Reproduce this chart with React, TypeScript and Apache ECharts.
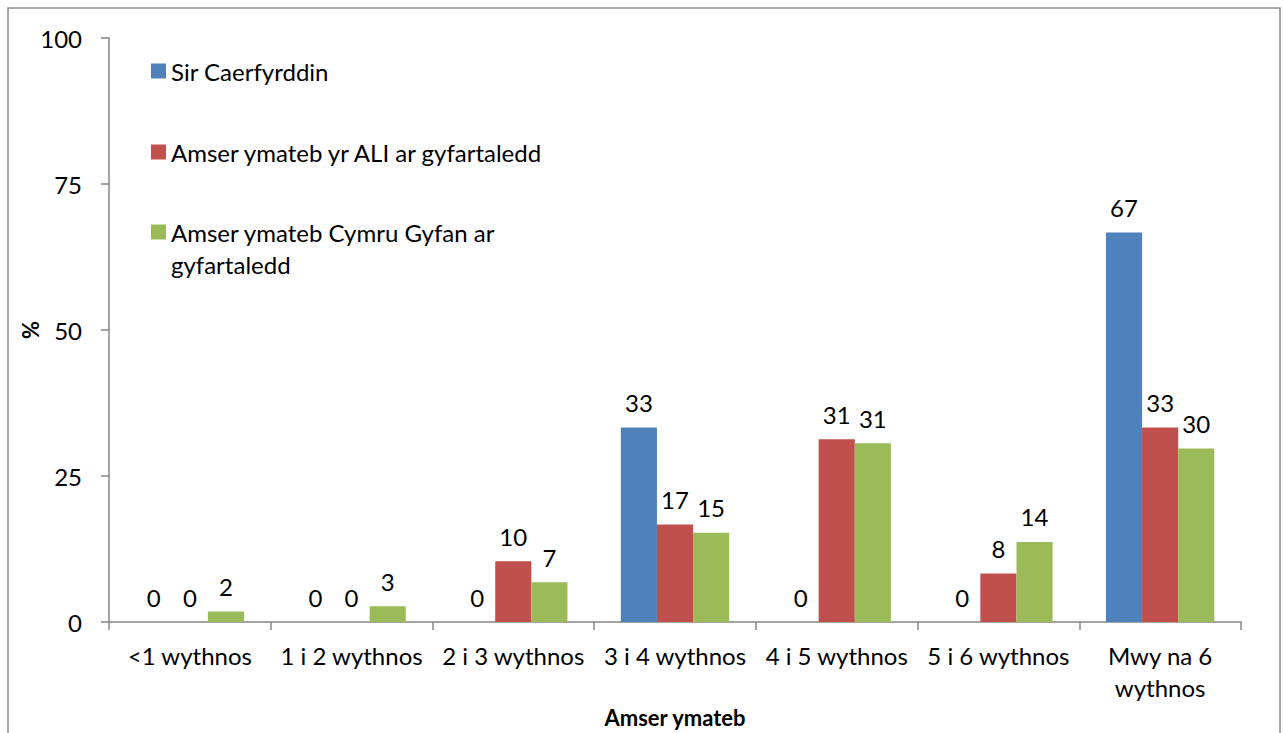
import React, { useEffect, useRef } from "react";
import * as echarts from "echarts";

const categories = [
  "<1 wythnos",
  "1 i 2 wythnos",
  "2 i 3 wythnos",
  "3 i 4 wythnos",
  "4 i 5 wythnos",
  "5 i 6 wythnos",
  "Mwy na 6\nwythnos",
];
const seriesNames = [
  "Sir Caerfyrddin",
  "Amser ymateb yr ALI ar gyfartaledd",
  "Amser ymateb Cymru Gyfan ar gyfartaledd",
];
const sirCaerfyrddin = [0, 0, 0, 33.3, 0, 0, 66.7];
const aliAverage = [0, 0, 10.4, 16.7, 31.3, 8.3, 33.3];
const cymruAverage = [1.8, 2.7, 6.8, 15.3, 30.6, 13.7, 29.7];
const yTicks = [0, 25, 50, 75, 100];

const colors = ["#4F81BD", "#C0504D", "#9BBB59"];
const FONT = "Lato";
const FS = 24;

export default function App() {
  const ref = useRef<HTMLDivElement>(null);
  useEffect(() => {
    if (!ref.current) return;
    const chart = echarts.init(ref.current, undefined, { renderer: "svg" });
    const values = [sirCaerfyrddin, aliAverage, cymruAverage];
    const legendBase = {
      orient: "vertical",
      left: 151,
      padding: 0,
      itemWidth: 15,
      itemHeight: 15,
      selectedMode: false,
      icon: "rect",
      textStyle: { fontFamily: FONT, fontSize: FS, color: "#000" },
    };
    chart.setOption({
      animation: false,
      textStyle: { fontFamily: FONT },
      color: colors,
      grid: { left: 109, right: 43, top: 38, bottom: 111, containLabel: false },
      graphic: [
        {
          type: "rect",
          shape: { x: 8, y: 8, width: 1272, height: 760 },
          style: { fill: "none", stroke: "#8a8a8a", lineWidth: 1.5 },
          silent: true,
        },
      ],
      legend: [
        { ...legendBase, top: 59, data: [seriesNames[0]] },
        { ...legendBase, top: 140, data: [seriesNames[1]] },
        {
          ...legendBase,
          top: 184,
          data: [seriesNames[2]],
          formatter: () => "\nAmser ymateb Cymru Gyfan ar\ngyfartaledd",
          textStyle: {
            fontFamily: FONT,
            fontSize: FS,
            color: "#000",
            lineHeight: 32,
          },
        },
      ],
      xAxis: {
        type: "category",
        data: categories,
        name: "Amser ymateb",
        nameLocation: "middle",
        nameGap: 84,
        nameMoveOverlap: false,
        nameTextStyle: { fontFamily: FONT, fontSize: FS - 2, fontWeight: "bold", color: "#000" },
        axisLine: { lineStyle: { color: "#868686", width: 1.5 } },
        axisTick: { show: true, length: 8, lineStyle: { color: "#868686", width: 1.5 } },
        axisLabel: {
          fontFamily: FONT,
          fontSize: FS,
          color: "#000",
          margin: 17,
          lineHeight: 32,
          interval: 0,
        },
      },
      yAxis: {
        type: "value",
        min: 0,
        max: 100,
        interval: 25,
        name: "%",
        nameLocation: "middle",
        nameGap: 68,
        nameMoveOverlap: false,
        nameTextStyle: { fontFamily: FONT, fontSize: FS - 2, fontWeight: "bold", color: "#000" },
        splitLine: { show: false },
        axisLine: { show: true, lineStyle: { color: "#868686", width: 1.5 } },
        axisTick: { show: true, length: 8, lineStyle: { color: "#868686", width: 1.5 } },
        axisLabel: {
          fontFamily: FONT,
          fontSize: FS,
          color: "#000",
          margin: 27,
          formatter: (v: number) => (yTicks.includes(v) ? String(v) : ""),
        },
      },
      series: seriesNames.map((name, i) => ({
        name,
        type: "bar",
        data: values[i],
        barGap: "0%",
        barCategoryGap: "33%",
        itemStyle: { color: colors[i] },
        label: {
          show: true,
          position: "top",
          distance: 13,
          fontFamily: FONT,
          fontSize: FS,
          color: "#000",
          formatter: (p: any) => String(Math.round(p.value)),
        },
      })),
    });
    return () => chart.dispose();
  }, []);
  return (
    <div
      ref={ref}
      style={{ position: "fixed", left: 0, top: 0, width: 1284, height: 733, background: "#fff" }}
    />
  );
}
